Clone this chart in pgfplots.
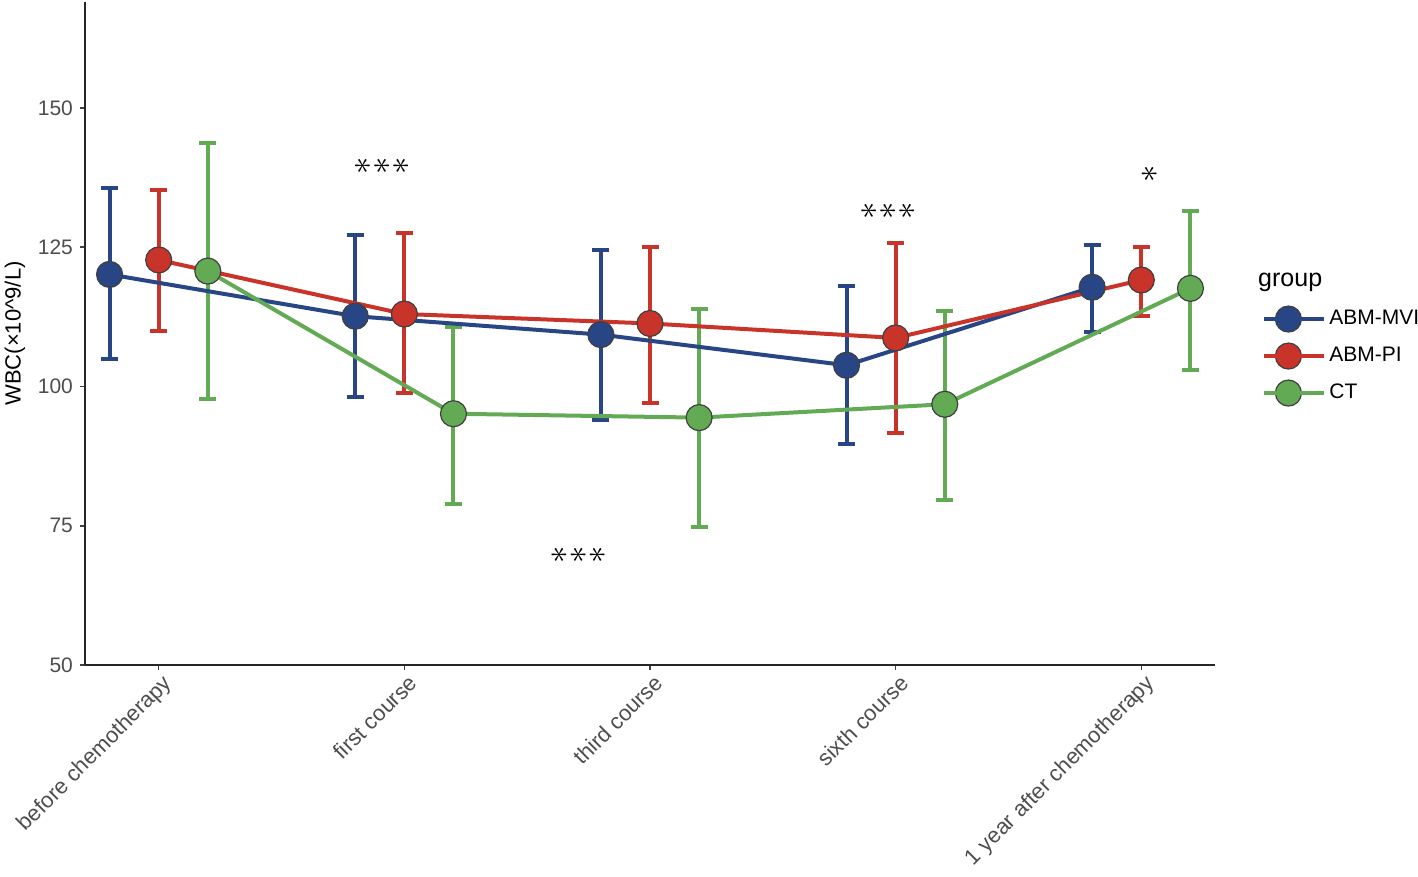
\documentclass[border=0pt]{standalone}
\usepackage{fontspec}
\setmainfont{Liberation Sans}
\usepackage{graphicx}
\usepackage{pgfplots}
\pgfplotsset{compat=1.18}
\usepackage{pgfplotstable}
\definecolor{cb}{RGB}{40,70,133}
\definecolor{cr}{RGB}{200,52,42}
\definecolor{cg}{RGB}{98,170,84}
\definecolor{tk}{RGB}{77,77,77}

\pgfplotstableread{
x y ep em
-0.2 120.1 15.5 15.2
0.8 112.6 14.5 14.5
1.8 109.3 15.1 15.4
2.8 103.8 14.2 14.2
3.8 117.8 7.6 8.0
}\mvi
\pgfplotstableread{
x y ep em
0 122.7 12.5 12.8
1 113.0 14.5 14.1
2 111.3 13.8 14.3
3 108.7 17.0 17.0
4 119.1 5.9 6.4
}\pii
\pgfplotstableread{
x y ep em
0.2 120.7 23.0 22.9
1.2 95.1 15.5 16.2
2.2 94.4 19.5 19.6
3.2 96.8 16.8 17.1
4.2 117.6 13.9 14.6
}\ctt

\newcommand\st{\rotatebox[origin=c]{90}{$\ast$}}
\newcommand\stars[1]{{\fontsize{16.5}{19}\selectfont #1}}

\pgfplotsset{
  eb/.style={forget plot, only marks, mark=none,
    error bars/.cd, y dir=both, y explicit,
    error bar style={solid, line width=2pt, draw=#1},
    error mark options={rotate=90, mark size=4.25pt, line width=2pt, draw=#1}},
  ln/.style={forget plot, mark=none, line width=2pt, draw=#1},
  pt/.style={forget plot, only marks, mark=*, mark size=6.5pt,
    mark options={solid, fill=#1, draw=black!75, line width=0.6pt}},
}

\begin{document}
\begin{tikzpicture}
\useasboundingbox (-42.5pt,-106pt) rectangle (666.5pt,332.5pt);
\begin{axis}[at={(0,0)}, anchor=south west, scale only axis,
  width=565pt, height=331.5pt,
  xmin=-0.3, xmax=4.3, ymin=50, ymax=169,
  clip=false,
  xtick={0,1,2,3,4},
  xticklabels={before chemotherapy, first course, third course, sixth course, 1 year after chemotherapy},
  ytick={50,75,100,125,150},
  axis x line*=bottom, axis y line*=left,
  axis line style={line width=1pt, black!85, -},
  tick align=outside, major tick length=2.5pt,
  tick style={line width=0.8pt, black!75},
  /pgf/number format/assume math mode=true,
  xticklabel style={rotate=45, anchor=north east, font=\fontsize{11}{13}\selectfont, text=tk, inner sep=2pt, xshift=2pt},
  yticklabel style={font=\fontsize{10.5}{12}\selectfont, text=tk},
  ylabel={WBC(×10\textasciicircum 9/L)},
  ylabel style={at={(rel axis cs:-0.062,0.5)}, anchor=center, font=\fontsize{11}{13}\selectfont},
  legend image code/.code={\draw[mark repeat=2, mark phase=2, #1] plot coordinates {(0pt,0pt) (12pt,0pt) (24pt,0pt)}; \path (0pt,0pt) -- (30pt,0pt);},
  legend style={at={(1.0416,0.466)}, anchor=west, draw=none, fill=none,
    font=\fontsize{10.5}{12}\selectfont, inner sep=0pt, row sep=5.5pt,
    nodes={inner sep=1.5pt}},
  legend cell align=left,
]
\addplot[eb=cb] table[x=x, y=y, y error plus=ep, y error minus=em]{\mvi};
\addplot[eb=cr] table[x=x, y=y, y error plus=ep, y error minus=em]{\pii};
\addplot[eb=cg] table[x=x, y=y, y error plus=ep, y error minus=em]{\ctt};
\addplot[ln=cb] table[x=x, y=y]{\mvi};
\addplot[ln=cr] table[x=x, y=y]{\pii};
\addplot[ln=cg] table[x=x, y=y]{\ctt};
\addplot[pt=cb] table[x=x, y=y]{\mvi};
\addplot[pt=cr] table[x=x, y=y]{\pii};
\addplot[pt=cg] table[x=x, y=y]{\ctt};

\addlegendimage{line width=2pt, draw=cb, mark=*, mark size=6.5pt, mark options={solid, fill=cb, draw=black!75, line width=0.6pt}}
\addlegendentry{ABM-MVI}
\addlegendimage{line width=2pt, draw=cr, mark=*, mark size=6.5pt, mark options={solid, fill=cr, draw=black!75, line width=0.6pt}}
\addlegendentry{ABM-PI}
\addlegendimage{line width=2pt, draw=cg, mark=*, mark size=6.5pt, mark options={solid, fill=cg, draw=black!75, line width=0.6pt}}
\addlegendentry{CT}

\node[font=\fontsize{12.5}{15}\selectfont, anchor=west] at (rel axis cs:1.032,0.577) {group};

\node at (axis cs:0.91,139.5) {\stars{\st\hspace{1.5pt}\st\hspace{1.5pt}\st}};
\node at (axis cs:1.71,69.7) {\stars{\st\hspace{1.5pt}\st\hspace{1.5pt}\st}};
\node at (axis cs:2.97,131.5) {\stars{\st\hspace{1.5pt}\st\hspace{1.5pt}\st}};
\node at (axis cs:4.035,138.1) {\stars{\st}};
\end{axis}
\end{tikzpicture}
\end{document}
